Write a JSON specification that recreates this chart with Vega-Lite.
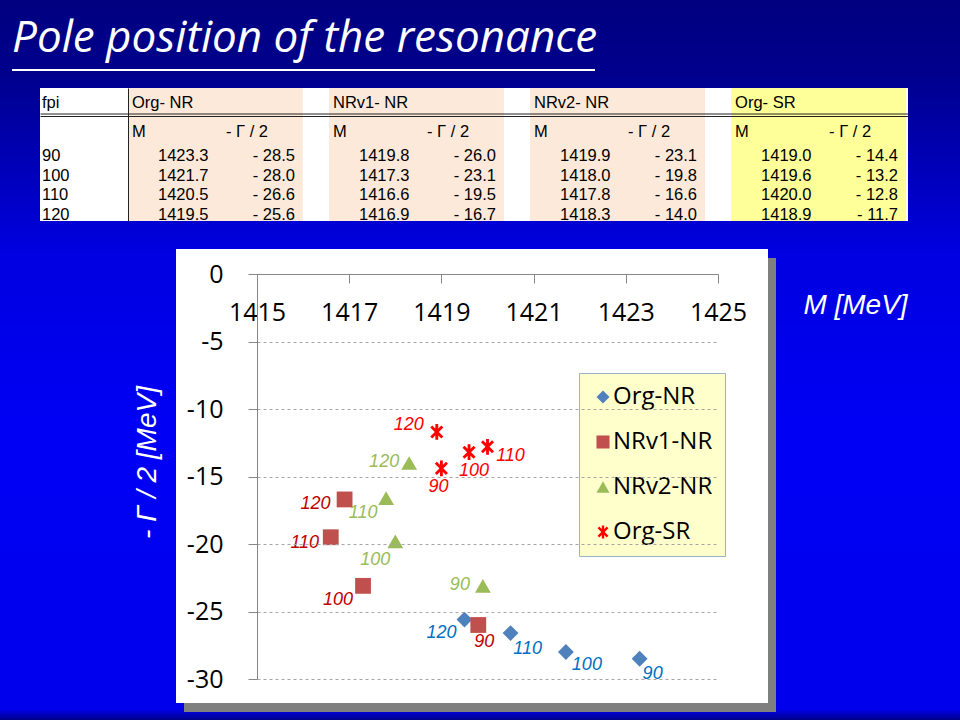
{
  "$schema": "https://vega.github.io/schema/vega-lite/v6.json",
  "width": 960,
  "height": 720,
  "autosize": {"type": "none"},
  "padding": 0,
  "background": "#000080",
  "title": {
    "text": "Pole position of the resonance",
    "anchor": "start",
    "frame": "group",
    "offset": -96,
    "baseline": "alphabetic",
    "dx": 12,
    "font": "Open Sans",
    "fontStyle": "italic",
    "fontWeight": "normal",
    "fontSize": 44,
    "color": "white"
  },
  "config": {
    "view": {
      "stroke": null,
      "fill": {
        "gradient": "linear",
        "x1": 0, "y1": 0, "x2": 0, "y2": 1,
        "stops": [
          {"offset": 0, "color": "#000080"},
          {"offset": 0.1, "color": "#00008C"},
          {"offset": 0.35, "color": "#0000E0"},
          {"offset": 0.6, "color": "#0000F5"},
          {"offset": 0.985, "color": "#0000EC"},
          {"offset": 1, "color": "#000088"}
        ]
      }
    },
    "text": {"font": "Liberation Sans", "fontStyle": "italic", "fontSize": 18, "baseline": "middle", "align": "center"},
    "legend": {"symbolOpacity": 1, "symbolStrokeWidth": 0}
  },
  "datasets": {
    "poles": [
      {"series": "Org-NR", "fpi": 90, "M": 1423.3, "G": -28.5},
      {"series": "Org-NR", "fpi": 100, "M": 1421.7, "G": -28.0},
      {"series": "Org-NR", "fpi": 110, "M": 1420.5, "G": -26.6},
      {"series": "Org-NR", "fpi": 120, "M": 1419.5, "G": -25.6},
      {"series": "NRv1-NR", "fpi": 90, "M": 1419.8, "G": -26.0},
      {"series": "NRv1-NR", "fpi": 100, "M": 1417.3, "G": -23.1},
      {"series": "NRv1-NR", "fpi": 110, "M": 1416.6, "G": -19.5},
      {"series": "NRv1-NR", "fpi": 120, "M": 1416.9, "G": -16.7},
      {"series": "NRv2-NR", "fpi": 90, "M": 1419.9, "G": -23.1},
      {"series": "NRv2-NR", "fpi": 100, "M": 1418.0, "G": -19.8},
      {"series": "NRv2-NR", "fpi": 110, "M": 1417.8, "G": -16.6},
      {"series": "NRv2-NR", "fpi": 120, "M": 1418.3, "G": -14.0},
      {"series": "Org-SR", "fpi": 90, "M": 1419.0, "G": -14.4},
      {"series": "Org-SR", "fpi": 100, "M": 1419.6, "G": -13.2},
      {"series": "Org-SR", "fpi": 110, "M": 1420.0, "G": -12.8},
      {"series": "Org-SR", "fpi": 120, "M": 1418.9, "G": -11.7}
    ],
    "one": [{}]
  },
  "layer": [
    {
      "data": {"name": "one"},
      "mark": {"type": "rule", "color": "white", "strokeWidth": 2},
      "encoding": {
        "x": {"datum": 0, "type": "quantitative", "scale": {"domain": [0, 1], "range": [12, 595]}, "axis": null},
        "x2": {"datum": 1},
        "y": {"datum": 0, "type": "quantitative", "scale": {"domain": [0, 1], "range": [70, 0]}, "axis": null}
      }
    },
    {
      "data": {"name": "one"},
      "mark": {"type": "rect", "color": "white"},
      "encoding": {
        "x": {"datum": 0, "type": "quantitative", "scale": {"domain": [0, 1], "range": [40, 908]},
          "axis": {"orient": "bottom", "offset": -606.5, "labels": false, "ticks": false, "grid": false, "title": null, "domainColor": "#222222", "domainWidth": 1, "zindex": 1}},
        "x2": {"datum": 1},
        "y": {"datum": 0, "type": "quantitative", "scale": {"domain": [0, 1], "range": [221, 88]},
          "axis": {"orient": "left", "offset": -128, "labels": false, "ticks": false, "grid": false, "title": null, "domainColor": "#222222", "domainWidth": 1, "zindex": 1}},
        "y2": {"datum": 1}
      }
    },
    {
      "data": {"name": "poles"},
      "transform": [{"aggregate": [{"op": "count", "as": "n"}], "groupby": ["series"]}],
      "encoding": {
        "x": {"field": "series", "type": "nominal", "scale": {"type": "band", "domain": ["Org-NR", "NRv1-NR", "NRv2-NR", "Org-SR"], "range": [128, 906], "paddingInner": 0.13, "paddingOuter": 0}, "axis": null},
        "y": {"datum": 0, "type": "quantitative", "scale": {"domain": [0, 1], "range": [221, 88]}, "axis": null},
        "y2": {"datum": 1}
      },
      "layer": [
        {"transform": [{"filter": "datum.series != 'Org-SR'"}], "mark": {"type": "rect", "color": "#FDE9D9"}},
        {"transform": [{"filter": "datum.series == 'Org-SR'"}], "mark": {"type": "rect", "color": "#FFFF99"}}
      ]
    },
    {
      "data": {"name": "one"},
      "mark": {"type": "rect", "opacity": 0},
      "encoding": {
        "x": {"datum": 0, "type": "quantitative", "scale": {"domain": [0, 1], "range": [40, 908]},
          "axis": {"orient": "bottom", "offset": -604, "labels": false, "ticks": false, "grid": false, "title": null, "domainColor": "#222222", "domainWidth": 1, "zindex": 1}},
        "x2": {"datum": 1},
        "y": {"datum": 0, "type": "quantitative", "scale": {"domain": [0, 1], "range": [221, 88]}, "axis": null},
        "y2": {"datum": 1}
      }
    },
    {
      "data": {"name": "poles"},
      "encoding": {
        "x": {"field": "series", "type": "nominal", "scale": {"type": "band", "domain": ["Org-NR", "NRv1-NR", "NRv2-NR", "Org-SR"], "range": [128, 906], "paddingInner": 0.13, "paddingOuter": 0}, "axis": null},
        "y": {"field": "fpi", "type": "ordinal", "scale": {"type": "point", "domain": [90, 100, 110, 120], "range": [156, 214.5], "padding": 0}, "axis": null}
      },
      "layer": [
        {
          "mark": {"type": "text", "align": "right", "dx": -7, "font": "Liberation Sans", "fontStyle": "normal", "fontSize": 16.5, "color": "black"},
          "encoding": {"text": {"field": "M", "type": "quantitative", "format": ".1f"}}
        },
        {
          "mark": {"type": "text", "align": "right", "dx": 79.5, "font": "Liberation Sans", "fontStyle": "normal", "fontSize": 16.5, "color": "black", "text": {"expr": "'- ' + format(-datum.G, '.1f')"}}
        },
        {
          "transform": [{"filter": "datum.series == 'Org-NR'"}],
          "mark": {"type": "text", "align": "left", "dx": -173.5, "font": "Liberation Sans", "fontStyle": "normal", "fontSize": 16.5, "color": "black"},
          "encoding": {"text": {"field": "fpi"}}
        },
        {
          "transform": [{"aggregate": [{"op": "count", "as": "n"}], "groupby": ["series"]}],
          "mark": {"type": "text", "align": "left", "dx": -83.5, "dy": -53, "font": "Liberation Sans", "fontStyle": "normal", "fontSize": 16.5, "color": "black", "text": {"expr": "replace(datum.series, '-', '- ')"}},
          "encoding": {"y": {"datum": 90, "type": "ordinal"}}
        },
        {
          "transform": [{"aggregate": [{"op": "count", "as": "n"}], "groupby": ["series"]}],
          "mark": {"type": "text", "align": "left", "dx": -83.5, "dy": -24, "font": "Liberation Sans", "fontStyle": "normal", "fontSize": 16.5, "color": "black", "text": "M"},
          "encoding": {"y": {"datum": 90, "type": "ordinal"}}
        },
        {
          "transform": [{"aggregate": [{"op": "count", "as": "n"}], "groupby": ["series"]}],
          "mark": {"type": "text", "align": "left", "dx": 10.5, "dy": -24, "font": "Liberation Sans", "fontStyle": "normal", "fontSize": 16.5, "color": "black", "text": "- Γ / 2"},
          "encoding": {"y": {"datum": 90, "type": "ordinal"}}
        },
        {
          "transform": [{"filter": "datum.series == 'Org-NR'"}, {"aggregate": [{"op": "count", "as": "n"}], "groupby": ["series"]}],
          "mark": {"type": "text", "align": "left", "dx": -173.5, "dy": -53, "font": "Liberation Sans", "fontStyle": "normal", "fontSize": 16.5, "color": "black", "text": "fpi"},
          "encoding": {"y": {"datum": 90, "type": "ordinal"}}
        }
      ]
    },
    {
      "data": {"name": "one"},
      "mark": {"type": "rect", "color": "#7F7F7F"},
      "encoding": {
        "x": {"datum": 0, "type": "quantitative", "scale": {"domain": [0, 1], "range": [184, 776]}, "axis": null},
        "x2": {"datum": 1},
        "y": {"datum": 0, "type": "quantitative", "scale": {"domain": [0, 1], "range": [712, 258]}, "axis": null},
        "y2": {"datum": 1}
      }
    },
    {
      "data": {"name": "one"},
      "mark": {"type": "rect", "color": "white"},
      "encoding": {
        "x": {"datum": 0, "type": "quantitative", "scale": {"domain": [0, 1], "range": [176, 768]}, "axis": null},
        "x2": {"datum": 1},
        "y": {"datum": 0, "type": "quantitative", "scale": {"domain": [0, 1], "range": [703, 249]}, "axis": null},
        "y2": {"datum": 1}
      }
    },
    {
      "data": {"name": "poles"},
      "encoding": {
        "x": {
          "field": "M", "type": "quantitative",
          "scale": {"domain": [1415, 1425], "range": [257, 718], "nice": false, "zero": false},
          "axis": {
            "orient": "bottom", "offset": -446, "values": [1415, 1417, 1419, 1421, 1423, 1425],
            "labelExpr": "'' + datum.value",
            "grid": false, "zindex": 1, "domainColor": "#868686", "tickColor": "#868686", "tickSize": 9,
            "labelFont": "Open Sans", "labelFontSize": 25, "labelColor": "black", "labelPadding": 17,
            "labelFlush": false, "labelOverlap": false,
            "title": "M [MeV]", "titleX": 855, "titleY": 31, "titleColor": "white", "titleFont": "Liberation Sans",
            "titleFontStyle": "italic", "titleFontWeight": "normal", "titleFontSize": 28,
            "titleAlign": "center", "titleBaseline": "middle", "titleAngle": 0
          }
        },
        "y": {
          "field": "G", "type": "quantitative",
          "scale": {"domain": [-30, 0], "range": [679, 274], "nice": false, "zero": false},
          "axis": {
            "orient": "left", "offset": -257, "values": [0, -5, -10, -15, -20, -25, -30],
            "labelExpr": "datum.value < 0 ? '-' + abs(datum.value) : '' + datum.value",
            "grid": true, "gridDash": [3, 3], "gridColor": "#A6A6A6", "zindex": 1,
            "domainColor": "#868686", "tickColor": "#868686", "tickSize": 9,
            "labelFont": "Open Sans", "labelFontSize": 25, "labelColor": "black", "labelPadding": 25,
            "labelFlush": false, "labelOverlap": false,
            "title": "- Γ / 2 [MeV]", "titleX": -110, "titleY": 462, "titleColor": "white", "titleFont": "Liberation Sans",
            "titleFontStyle": "italic", "titleFontWeight": "normal", "titleFontSize": 28,
            "titleAlign": "center", "titleBaseline": "middle", "titleAngle": -90
          }
        }
      },
      "layer": [
        {
          "mark": {"type": "point", "filled": true, "size": 250, "opacity": 1, "strokeWidth": 0},
          "encoding": {
            "color": {
              "field": "series", "type": "nominal",
              "scale": {"domain": ["Org-NR", "NRv1-NR", "NRv2-NR", "Org-SR"], "range": ["#4F81BD", "#C0504D", "#9BBB59", "#FF0000"]},
              "legend": {"title": null, "orient": "none", "legendX": 579, "legendY": 373, "fillColor": "#FFFFCC", "strokeColor": "#9DB3CC", "padding": 12, "labelFont": "Open Sans", "labelFontSize": 24, "labelColor": "black", "labelOffset": -2, "rowPadding": 21, "symbolSize": 170, "labelLimit": 300}
            },
            "shape": {
              "field": "series", "type": "nominal",
              "scale": {"domain": ["Org-NR", "NRv1-NR", "NRv2-NR", "Org-SR"], "range": ["diamond", "square", "triangle-up", "M-0.18,-1L0.18,-1L0.18,1L-0.18,1ZM-0.573,-0.827L0.827,0.573L0.573,0.827L-0.827,-0.573ZM-0.573,0.827L-0.827,0.573L0.573,-0.827L0.827,-0.573Z"]},
              "legend": {"title": null, "orient": "none", "legendX": 579, "legendY": 373, "fillColor": "#FFFFCC", "strokeColor": "#9DB3CC", "padding": 12, "labelFont": "Open Sans", "labelFontSize": 24, "labelColor": "black", "labelOffset": -2, "rowPadding": 21, "symbolSize": 170, "labelLimit": 300}
            }
          }
        },
        {"transform": [{"filter": "datum.series == 'Org-NR' && datum.fpi == 90"}], "mark": {"type": "text", "dx": 13, "dy": 15, "color": "#0070C0"}, "encoding": {"text": {"field": "fpi"}}},
        {"transform": [{"filter": "datum.series == 'Org-NR' && datum.fpi == 100"}], "mark": {"type": "text", "dx": 21, "dy": 13, "color": "#0070C0"}, "encoding": {"text": {"field": "fpi"}}},
        {"transform": [{"filter": "datum.series == 'Org-NR' && datum.fpi == 110"}], "mark": {"type": "text", "dx": 17, "dy": 16, "color": "#0070C0"}, "encoding": {"text": {"field": "fpi"}}},
        {"transform": [{"filter": "datum.series == 'Org-NR' && datum.fpi == 120"}], "mark": {"type": "text", "dx": -23, "dy": 13, "color": "#0070C0"}, "encoding": {"text": {"field": "fpi"}}},
        {"transform": [{"filter": "datum.series == 'NRv1-NR' && datum.fpi == 90"}], "mark": {"type": "text", "dx": 6, "dy": 17, "color": "#C00000"}, "encoding": {"text": {"field": "fpi"}}},
        {"transform": [{"filter": "datum.series == 'NRv1-NR' && datum.fpi == 100"}], "mark": {"type": "text", "dx": -25, "dy": 14, "color": "#C00000"}, "encoding": {"text": {"field": "fpi"}}},
        {"transform": [{"filter": "datum.series == 'NRv1-NR' && datum.fpi == 110"}], "mark": {"type": "text", "dx": -26, "dy": 6, "color": "#C00000"}, "encoding": {"text": {"field": "fpi"}}},
        {"transform": [{"filter": "datum.series == 'NRv1-NR' && datum.fpi == 120"}], "mark": {"type": "text", "dx": -29, "dy": 5, "color": "#C00000"}, "encoding": {"text": {"field": "fpi"}}},
        {"transform": [{"filter": "datum.series == 'NRv2-NR' && datum.fpi == 90"}], "mark": {"type": "text", "dx": -23, "dy": -1, "color": "#9BBB59"}, "encoding": {"text": {"field": "fpi"}}},
        {"transform": [{"filter": "datum.series == 'NRv2-NR' && datum.fpi == 100"}], "mark": {"type": "text", "dx": -20, "dy": 19, "color": "#9BBB59"}, "encoding": {"text": {"field": "fpi"}}},
        {"transform": [{"filter": "datum.series == 'NRv2-NR' && datum.fpi == 110"}], "mark": {"type": "text", "dx": -23, "dy": 15, "color": "#9BBB59"}, "encoding": {"text": {"field": "fpi"}}},
        {"transform": [{"filter": "datum.series == 'NRv2-NR' && datum.fpi == 120"}], "mark": {"type": "text", "dx": -25, "dy": -1, "color": "#9BBB59"}, "encoding": {"text": {"field": "fpi"}}},
        {"transform": [{"filter": "datum.series == 'Org-SR' && datum.fpi == 90"}], "mark": {"type": "text", "dx": -3, "dy": 19, "color": "#FF0000"}, "encoding": {"text": {"field": "fpi"}}},
        {"transform": [{"filter": "datum.series == 'Org-SR' && datum.fpi == 100"}], "mark": {"type": "text", "dx": 5, "dy": 19, "color": "#FF0000"}, "encoding": {"text": {"field": "fpi"}}},
        {"transform": [{"filter": "datum.series == 'Org-SR' && datum.fpi == 110"}], "mark": {"type": "text", "dx": 23, "dy": 9, "color": "#FF0000"}, "encoding": {"text": {"field": "fpi"}}},
        {"transform": [{"filter": "datum.series == 'Org-SR' && datum.fpi == 120"}], "mark": {"type": "text", "dx": -28, "dy": -7, "color": "#FF0000"}, "encoding": {"text": {"field": "fpi"}}}
      ]
    }
  ],
  "resolve": {
    "scale": {"x": "independent", "y": "independent"},
    "axis": {"x": "independent", "y": "independent"}
  }
}
